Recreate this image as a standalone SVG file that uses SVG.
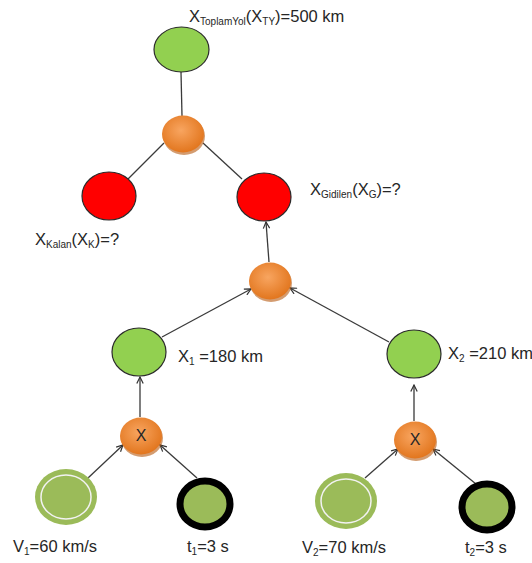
<svg xmlns="http://www.w3.org/2000/svg" width="532" height="563" viewBox="0 0 532 563">
<defs>
<radialGradient id="og" cx="0.45" cy="0.4" r="0.6">
<stop offset="0" stop-color="#F8A560"/>
<stop offset="1" stop-color="#E2761E"/>
</radialGradient>
<marker id="ah" viewBox="0 0 10 10" refX="9" refY="5" markerWidth="8" markerHeight="8" orient="auto" markerUnits="userSpaceOnUse">
<path d="M1,1 L9,5 L1,9" fill="none" stroke="#333" stroke-width="1.5"/>
</marker>
</defs>
<style>
.green{fill:#92D050;stroke:#2b2b2b;stroke-width:1.2}
.red{fill:#FF0000;stroke:#2b2b2b;stroke-width:1.2}
.orange{fill:url(#og)}
.shadow{fill:#B85A10;opacity:0.6}
.vnode{fill:#9BBB59}
.vring{fill:none;stroke:#F2F2F2;stroke-width:1.5}
.tnode{fill:#9BBB59;stroke:#000;stroke-width:7}
.line{stroke:#3a3a3a;stroke-width:1.3;fill:none}
.arr{stroke:#3a3a3a;stroke-width:1.3;fill:none;marker-end:url(#ah)}
text{font-family:"Liberation Sans",Arial,sans-serif;fill:#262626;font-size:16.5px}
.sub{font-size:10px}
.x{font-size:16px;text-anchor:middle}
</style>
<g id="connectors">
<line class="line" x1="181" y1="72" x2="182" y2="116"/>
<line class="line" x1="164" y1="143" x2="128" y2="179"/>
<line class="line" x1="203" y1="143" x2="242" y2="179"/>
<line class="arr" x1="269" y1="262" x2="266" y2="222"/>
<line class="arr" x1="162" y1="337" x2="251" y2="289"/>
<line class="arr" x1="389" y1="342" x2="290" y2="288"/>
<line class="arr" x1="140" y1="417" x2="140" y2="377"/>
<line class="arr" x1="88" y1="478" x2="123" y2="445"/>
<line class="arr" x1="197" y1="478" x2="160" y2="445"/>
<line class="arr" x1="414" y1="421" x2="414" y2="385"/>
<line class="arr" x1="365" y1="478" x2="398" y2="449"/>
<line class="arr" x1="476" y1="484" x2="433" y2="449"/>
</g>
<g id="n-total">
<ellipse class="green" cx="181.5" cy="49.5" rx="27.5" ry="22.5"/>
<text x="189" y="22">X<tspan class="sub" dy="3">ToplamYol</tspan><tspan dy="-3">(X</tspan><tspan class="sub" dy="3">TY</tspan><tspan dy="-3">)=500 km</tspan></text>
</g>
<g id="n-sum">
<ellipse class="shadow" cx="184" cy="136" rx="21" ry="19"/>
<ellipse class="orange" cx="183" cy="134" rx="21" ry="18.5"/>
</g>
<g id="n-kalan">
<ellipse class="red" cx="109" cy="196" rx="27" ry="24"/>
<text x="35" y="245">X<tspan class="sub" dy="3">Kalan</tspan><tspan dy="-3">(X</tspan><tspan class="sub" dy="3">K</tspan><tspan dy="-3">)=?</tspan></text>
</g>
<g id="n-gidilen">
<ellipse class="red" cx="264" cy="197" rx="27" ry="24"/>
<text x="310" y="195">X<tspan class="sub" dy="3">Gidilen</tspan><tspan dy="-3">(X</tspan><tspan class="sub" dy="3">G</tspan><tspan dy="-3">)=?</tspan></text>
</g>
<g id="n-mid">
<ellipse class="shadow" cx="271" cy="283" rx="21" ry="19"/>
<ellipse class="orange" cx="270" cy="281" rx="21" ry="18.5"/>
</g>
<g id="n-x1">
<ellipse class="green" cx="139" cy="352" rx="27" ry="24"/>
<text x="178" y="362">X<tspan class="sub" dy="3">1</tspan><tspan dy="-3"> =180 km</tspan></text>
</g>
<g id="n-x2">
<ellipse class="green" cx="414" cy="354" rx="27" ry="24"/>
<text x="448" y="359">X<tspan class="sub" dy="3">2</tspan><tspan dy="-3"> =210 km</tspan></text>
</g>
<g id="n-mul1">
<ellipse class="shadow" cx="142" cy="438" rx="21" ry="19"/>
<ellipse class="orange" cx="141" cy="436" rx="21" ry="18.5"/>
<text class="x" x="141" y="441">X</text>
</g>
<g id="n-mul2">
<ellipse class="shadow" cx="416" cy="442" rx="21" ry="19"/>
<ellipse class="orange" cx="415" cy="440" rx="21" ry="18.5"/>
<text class="x" x="415" y="445">X</text>
</g>
<g id="n-v1">
<ellipse class="vnode" cx="66" cy="497" rx="31" ry="28"/>
<ellipse class="vring" cx="66" cy="497" rx="25" ry="22"/>
<text x="13" y="552">V<tspan class="sub" dy="3">1</tspan><tspan dy="-3">=60 km/s</tspan></text>
</g>
<g id="n-t1">
<ellipse class="tnode" cx="205" cy="504" rx="25" ry="23"/>
<text x="187" y="552">t<tspan class="sub" dy="3">1</tspan><tspan dy="-3">=3 s</tspan></text>
</g>
<g id="n-v2">
<ellipse class="vnode" cx="346" cy="501" rx="31" ry="28"/>
<ellipse class="vring" cx="346" cy="501" rx="25" ry="22"/>
<text x="302" y="553">V<tspan class="sub" dy="3">2</tspan><tspan dy="-3">=70 km/s</tspan></text>
</g>
<g id="n-t2">
<ellipse class="tnode" cx="487" cy="507" rx="25" ry="23"/>
<text x="465" y="553">t<tspan class="sub" dy="3">2</tspan><tspan dy="-3">=3 s</tspan></text>
</g>
</svg>
